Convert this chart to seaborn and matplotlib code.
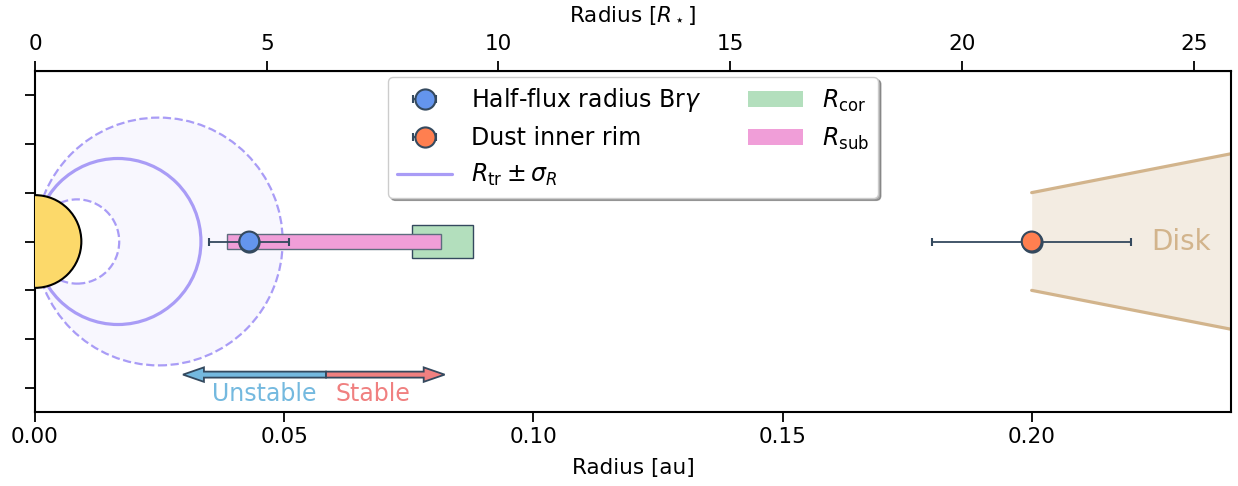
import numpy as np
import matplotlib
matplotlib.use('Agg')
import matplotlib.pyplot as plt
import seaborn as sns
from matplotlib.patches import Circle, Patch
from matplotlib.lines import Line2D

# ---- data (au) --------------------------------------------------------------
R_star = 0.0093                  # 1 R_star in au
R_tr, sig_R = 0.0333, 0.0164     # truncation radius and its spread
brg_r, brg_err = 0.043, 0.008    # half-flux radius Br gamma
rim_r, rim_err = 0.200, 0.020    # dust inner rim
R_cor = [0.0756, 0.0879]         # corotation radius range
R_sub = [0.0385, 0.0814]         # sublimation radius range
disk_x = [0.200, 0.240]
disk_half = [0.0098, 0.0176]
arrow_mid = 0.0584
arrow_left = 0.0297
arrow_right = 0.0822
top_ticks = [0, 5, 10, 15, 20, 25]
bottom_ticks = [0.00, 0.05, 0.10, 0.15, 0.20]

# colours
c_star = '#fcd96a'
c_tr = '#a99cf6'
c_edge = '#34495e'
c_blue = '#6495ed'
c_orange = '#ff7f50'
c_green = '#b3dfbd'
c_pink = '#f09ed8'
c_disk = '#d2b48c'
c_unst = '#74b9df'
c_stab = '#f08080'

sns.set_style('ticks', {'axes.edgecolor': 'black', 'text.color': 'black',
                        'axes.labelcolor': 'black', 'xtick.color': 'black',
                        'ytick.color': 'black'})
plt.rcParams['font.family'] = ['DejaVu Sans']
plt.rcParams['mathtext.fontset'] = 'dejavusans'

fig = plt.figure(figsize=(12.38, 4.86), dpi=100)
ax = fig.add_axes([35/1238, 74/486, 1196/1238, 341/486])

# truncation region: shaded annulus between dashed circles
ax.add_patch(Circle(((R_tr+sig_R)/2, 0), (R_tr+sig_R)/2, fc=c_tr, alpha=0.08, ec='none', zorder=1))
ax.add_patch(Circle(((R_tr-sig_R)/2, 0), (R_tr-sig_R)/2, fc='white', ec='none', zorder=1.1))
ax.add_patch(Circle(((R_tr+sig_R)/2, 0), (R_tr+sig_R)/2, fc='none', ec=c_tr, lw=1.6, ls='--', zorder=2))
ax.add_patch(Circle(((R_tr-sig_R)/2, 0), (R_tr-sig_R)/2, fc='none', ec=c_tr, lw=1.6, ls='--', zorder=2))
ax.add_patch(Circle((R_tr/2, 0), R_tr/2, fc='none', ec=c_tr, lw=2.3, zorder=2))

# star
ax.add_patch(Circle((0, 0), R_star, fc=c_star, ec='black', lw=1.5, zorder=3))

# R_cor / R_sub ranges
ax.barh(0, R_cor[1]-R_cor[0], left=R_cor[0], height=0.0065, color=c_green, ec=c_edge, lw=1, zorder=3)
ax.barh(0, R_sub[1]-R_sub[0], left=R_sub[0], height=0.0030, color=c_pink, ec='#5d6d7e', lw=1, zorder=3.5)

# disk
ax.fill_between(disk_x, [-h for h in disk_half], disk_half, color=c_disk, alpha=0.25, lw=0, zorder=1)
ax.plot(disk_x, disk_half, color=c_disk, lw=2.3, zorder=2)
ax.plot(disk_x, [-h for h in disk_half], color=c_disk, lw=2.3, zorder=2)
ax.text(0.2300, 0, 'Disk', color=c_disk, fontsize=20, ha='center', va='center', zorder=4)

# measurements
mk = dict(fmt='o', ecolor=c_edge, elinewidth=1.3, capsize=3, capthick=1.3,
          markersize=14.5, markeredgecolor=c_edge, markeredgewidth=1.5, zorder=4)
eb1 = ax.errorbar([brg_r], [0], xerr=[brg_err], color=c_blue, **mk)
eb2 = ax.errorbar([rim_r], [0], xerr=[rim_err], color=c_orange, **mk)
sns.scatterplot(x=[brg_r, rim_r], y=[0, 0], hue=['Br', 'rim'], palette=[c_blue, c_orange],
                ax=ax, s=205, edgecolor=c_edge, linewidth=1.5, zorder=5, legend=False)

# stability arrows
y_arr = -0.0267
ax.arrow(arrow_mid, y_arr, arrow_left-arrow_mid, 0, width=0.0012, head_width=0.0029, head_length=0.0042,
         length_includes_head=True, fc=c_unst, ec=c_edge, lw=1.3, zorder=4)
ax.arrow(arrow_mid, y_arr, arrow_right-arrow_mid, 0, width=0.0012, head_width=0.0029, head_length=0.0042,
         length_includes_head=True, fc=c_stab, ec=c_edge, lw=1.3, zorder=4)
ax.text(0.0461, -0.0306, 'Unstable', color=c_unst, fontsize=17, ha='center', va='center')
ax.text(0.0679, -0.0306, 'Stable', color=c_stab, fontsize=17, ha='center', va='center')

# axes
ax.set_xlim(0, 0.24)
ax.set_ylim(-0.0342, 0.0342)
ax.set_xticks(bottom_ticks)
ax.set_xticklabels(['%.2f' % t for t in bottom_ticks])
ax.set_yticks(np.arange(-3, 4) * 0.00977)
ax.set_yticklabels([])
ax.set_xlabel('Radius [au]', fontsize=15.5, labelpad=8.5)
ax.tick_params(labelsize=15.5, width=1.3, length=7)
for s in ax.spines.values():
    s.set_linewidth(1.5)

top = ax.secondary_xaxis('top', functions=(lambda x: x / R_star, lambda x: x * R_star))
top.set_xticks(top_ticks)
top.set_xlabel(r'Radius [$R_\star$]', fontsize=15.5, labelpad=9)
top.tick_params(labelsize=15.5, width=1.3, length=7, pad=5)

# legend
h_tr = Line2D([], [], color=c_tr, lw=2.3)
h_cor = Patch(facecolor=c_green, edgecolor='none')
h_sub = Patch(facecolor=c_pink, edgecolor='none')
leg = ax.legend([eb1, eb2, h_tr, h_cor, h_sub],
                [r'Half-flux radius Br$\gamma$', 'Dust inner rim', r'$R_{\rm tr} \pm \sigma_R$',
                 r'$R_{\rm cor}$', r'$R_{\rm sub}$'],
                loc='upper center', ncol=2, fontsize=17, shadow=True, fancybox=True,
                framealpha=1, edgecolor='#cccccc', borderaxespad=0.25, columnspacing=2.0,
                handlelength=2.3, numpoints=1)
leg.set_zorder(10)

fig.savefig('out.png', dpi=100)
